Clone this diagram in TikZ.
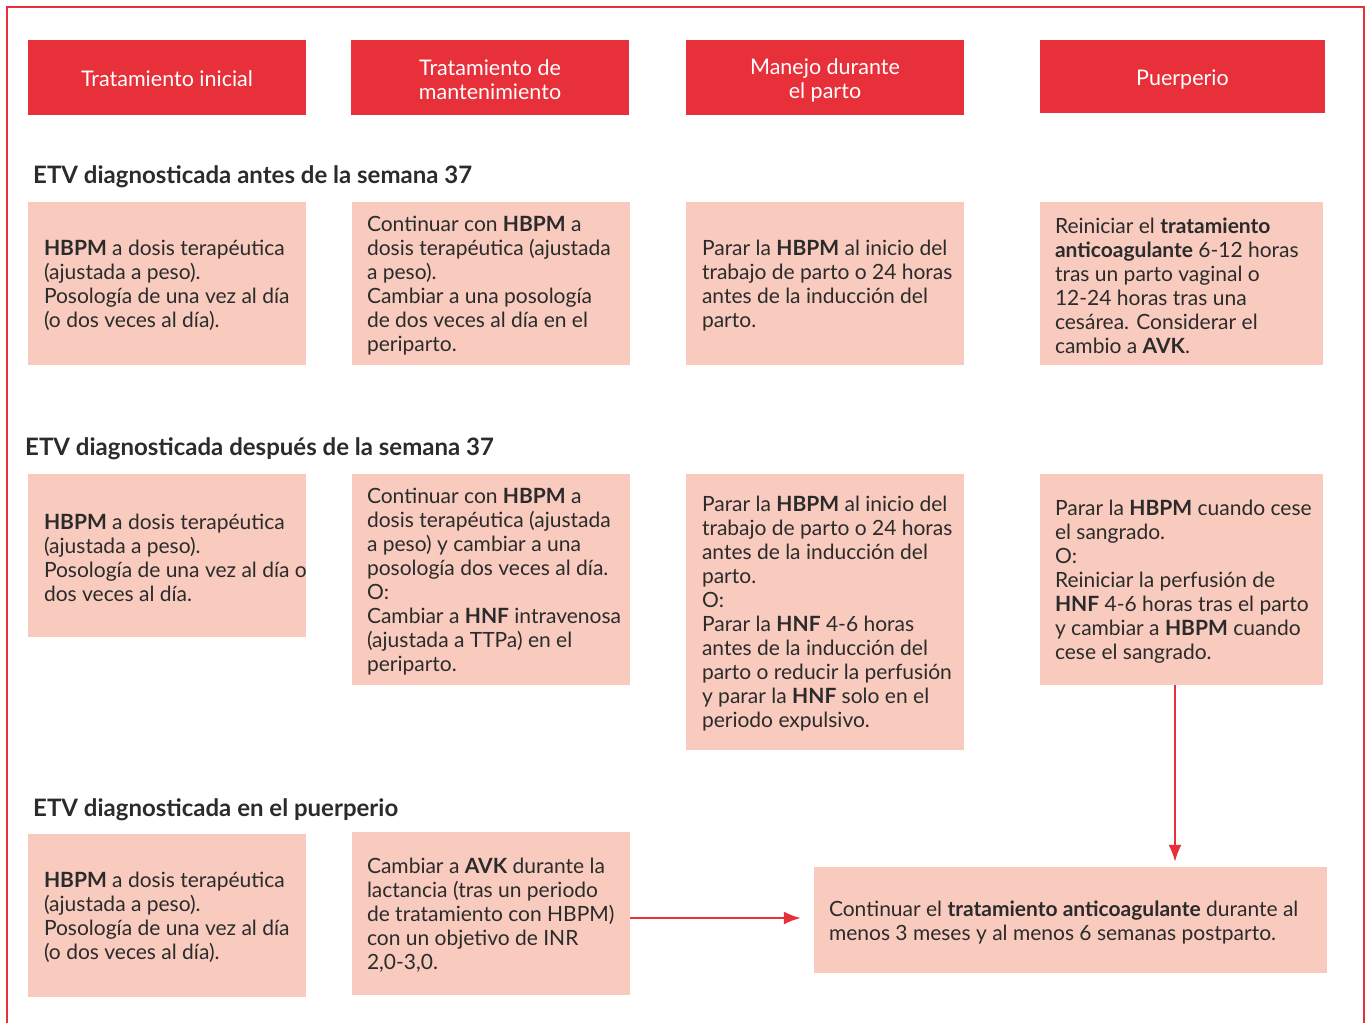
\documentclass[tikz,border=0pt]{standalone}
\usepackage{fontspec}
\setmainfont{Lato}
\usetikzlibrary{arrows.meta}
\definecolor{hred}{HTML}{E8303A}
\definecolor{boxpink}{HTML}{F8CBBE}
\definecolor{txt}{HTML}{2B2B2B}
\tikzset{
  hdr/.style={fill=hred, inner sep=0pt},
  hdrtxt/.style={text=white, inner sep=0pt, align=center, font=\fontsize{21.5}{24}\selectfont},
  cell/.style={fill=boxpink, inner sep=0pt},
  body/.style={anchor=west, align=left, inner sep=0pt, text=txt, font=\fontsize{21}{24}\selectfont},
  sect/.style={anchor=base west, inner sep=0pt, text=txt, font=\fontsize{24}{28}\selectfont\bfseries},
  arr/.style={draw=hred, line width=2pt, -{Latex[length=17pt,width=13pt]}}
}
\begin{document}
\begin{tikzpicture}[x=1pt,y=-1pt]
\useasboundingbox (0,0) rectangle (1365,1023);
\draw[hred, line width=2pt] (7,1023) -- (7,7) -- (1364,7) -- (1364,1023);
% headers
\node[hdr, minimum width=278pt, minimum height=75pt] (h1) at (167,77.5) {};
\node[hdr, minimum width=278pt, minimum height=75pt] (h2) at (490,77.5) {};
\node[hdr, minimum width=278pt, minimum height=75pt] (h3) at (825,77.5) {};
\node[hdr, minimum width=285pt, minimum height=73pt] (h4) at (1182.5,76.5) {};
\node[hdrtxt] (h1t) at ([yshift=-1.5pt]h1.center) {Tratamiento inicial};
\node[hdrtxt] (h2t) at ([yshift=-2.5pt]h2.center) {Tratamiento de\\mantenimiento};
\node[hdrtxt] (h3t) at ([yshift=-3pt]h3.center) {Manejo durante\\el parto};
\node[hdrtxt] (h4t) at ([yshift=-3pt]h4.center) {Puerperio};
% section titles
\node[sect] (s1) at (33,183) {ETV diagnosticada antes de la semana 37};
\node[sect] (s2) at (25,455) {ETV diagnosticada después de la semana 37};
\node[sect] (s3) at (33,816) {ETV diagnosticada en el puerperio};
% row 1
\node[cell, minimum width=278pt, minimum height=163pt] (r1a) at (167,283.5) {};
\node[cell, minimum width=278pt, minimum height=163pt] (r1b) at (491,283.5) {};
\node[cell, minimum width=278pt, minimum height=163pt] (r1c) at (825,283.5) {};
\node[cell, minimum width=283pt, minimum height=163pt] (r1d) at (1181.5,283.5) {};
\node[body] (t1a) at ([xshift=16pt,yshift=-2pt]r1a.west) {\textbf{HBPM} a dosis terapéutica\\(ajustada a peso).\\Posología de una vez al día\\(o dos veces al día).};
\node[body] (t1b) at ([xshift=15pt,yshift=-2pt]r1b.west) {Continuar con \textbf{HBPM} a\\dosis terapéutica (ajustada\\a peso).\\Cambiar a una posología\\de dos veces al día en el\\periparto.};
\node[body] (t1c) at ([xshift=16pt,yshift=-2pt]r1c.west) {Parar la \textbf{HBPM} al inicio del\\trabajo de parto o 24 horas\\antes de la inducción del\\parto.};
\node[body] (t1d) at ([xshift=15pt,yshift=-2pt]r1d.west) {Reiniciar el \textbf{tratamiento}\\\textbf{anticoagulante} 6-12 horas\\tras un parto vaginal o\\12-24 horas tras una\\cesárea. Considerar el\\cambio a \textbf{AVK}.};
% row 2
\node[cell, minimum width=278pt, minimum height=163pt] (r2a) at (167,555.5) {};
\node[cell, minimum width=278pt, minimum height=211pt] (r2b) at (491,579.5) {};
\node[cell, minimum width=278pt, minimum height=276pt] (r2c) at (825,612) {};
\node[cell, minimum width=283pt, minimum height=211pt] (r2d) at (1181.5,579.5) {};
\node[body] (t2a) at ([xshift=16pt,yshift=-2pt]r2a.west) {\textbf{HBPM} a dosis terapéutica\\(ajustada a peso).\\Posología de una vez al día o\\dos veces al día.};
\node[body] (t2b) at ([xshift=15pt,yshift=-2pt]r2b.west) {Continuar con \textbf{HBPM} a\\dosis terapéutica (ajustada\\a peso) y cambiar a una\\posología dos veces al día.\\O:\\Cambiar a \textbf{HNF} intravenosa\\(ajustada a TTPa) en el\\periparto.};
\node[body] (t2c) at ([xshift=16pt,yshift=-2pt]r2c.west) {Parar la \textbf{HBPM} al inicio del\\trabajo de parto o 24 horas\\antes de la inducción del\\parto.\\O:\\Parar la \textbf{HNF} 4-6 horas\\antes de la inducción del\\parto o reducir la perfusión\\y parar la \textbf{HNF} solo en el\\periodo expulsivo.};
\node[body] (t2d) at ([xshift=15pt,yshift=-2pt]r2d.west) {Parar la \textbf{HBPM} cuando cese\\el sangrado.\\O:\\Reiniciar la perfusión de\\\textbf{HNF} 4-6 horas tras el parto\\y cambiar a \textbf{HBPM} cuando\\cese el sangrado.};
% row 3
\node[cell, minimum width=278pt, minimum height=163pt] (r3a) at (167,915.5) {};
\node[cell, minimum width=278pt, minimum height=163pt] (r3b) at (491,913.5) {};
\node[cell, minimum width=513pt, minimum height=106pt] (fin) at (1070.5,920) {};
\node[body] (t3a) at ([xshift=16pt,yshift=-2pt]r3a.west) {\textbf{HBPM} a dosis terapéutica\\(ajustada a peso).\\Posología de una vez al día\\(o dos veces al día).};
\node[body] (t3b) at ([xshift=15pt,yshift=-2pt]r3b.west) {Cambiar a \textbf{AVK} durante la\\lactancia (tras un periodo\\de tratamiento con HBPM)\\con un objetivo de INR\\2,0-3,0.};
\node[body] (tfin) at ([xshift=15pt,yshift=-2pt]fin.west) {Continuar el \textbf{tratamiento anticoagulante} durante al\\menos 3 meses y al menos 6 semanas postparto.};
% connectors
\draw[arr, shorten >=13pt] ([yshift=-4.5pt]r3b.east) -- ([yshift=-4.5pt]r3b.east -| fin.west);
\draw[arr, shorten >=5pt] ([xshift=-6.5pt]r2d.south) -- ([xshift=-6.5pt]r2d.south |- fin.north);
\end{tikzpicture}
\end{document}
